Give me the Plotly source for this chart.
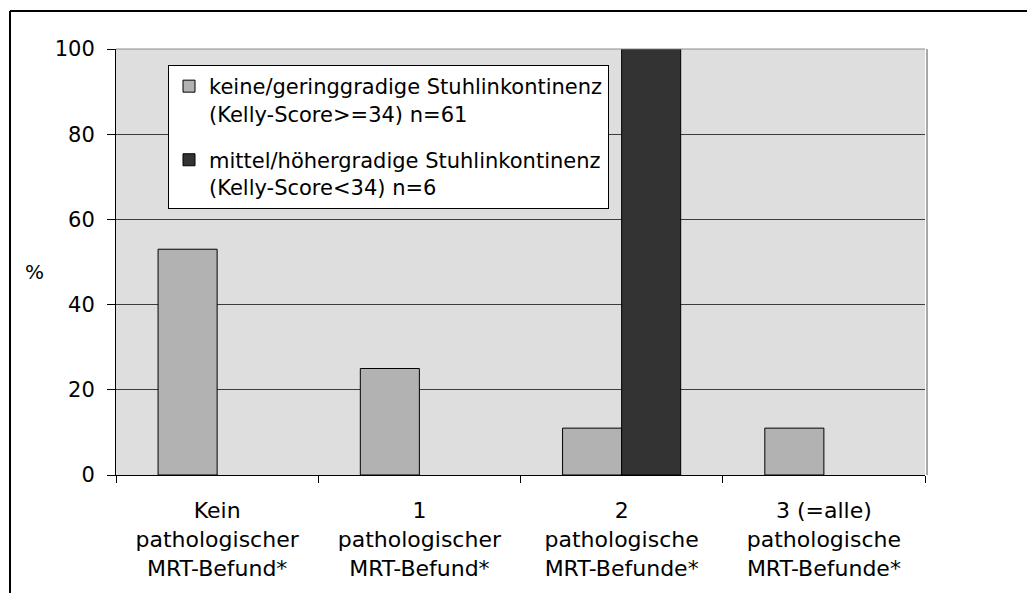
import plotly.graph_objects as go

# Kategorien: Anzahl pathologischer MRT-Befunde
categories = [
    "Kein<br>pathologischer<br>MRT-Befund*",
    "1<br>pathologischer<br>MRT-Befund*",
    "2<br>pathologische<br>MRT-Befunde*",
    "3 (=alle)<br>pathologische<br>MRT-Befunde*",
]

# Anteile in % je Gruppe
series_names = [
    "keine/geringgradige Stuhlinkontinenz<br>(Kelly-Score>=34) n=61",
    "mittel/höhergradige Stuhlinkontinenz<br>(Kelly-Score<34) n=6",
]
gering_values = [53, 25, 11, 11]
hoeher_values = [None, None, 100, None]

y_tickvals = [0, 20, 40, 60, 80, 100]

# Seitengeometrie (Pixel)
W, H = 1027, 593
PL, PR, PT, PB = 116, 925, 49, 475
FONT = "DejaVu Sans"


def px_x(x):
    return (x - PL) / (PR - PL)


def px_y(y):
    return (PB - y) / (PB - PT)


fig = go.Figure()
fig.add_trace(go.Bar(
    x=categories, y=gering_values, name=series_names[0],
    marker=dict(color="#b2b2b2", line=dict(color="#000000", width=1)),
    legendgroup="a",
))
fig.add_trace(go.Bar(
    x=categories, y=hoeher_values, name=series_names[1],
    marker=dict(color="#333333", line=dict(color="#000000", width=1)),
    legendgroup="b",
))

shapes = [
    # Rahmen um die Grafik (links und oben)
    dict(type="line", xref="paper", yref="paper",
         x0=px_x(10), x1=px_x(10), y0=px_y(H + 5), y1=px_y(11),
         line=dict(color="#000000", width=2)),
    dict(type="line", xref="paper", yref="paper",
         x0=px_x(10), x1=px_x(W + 5), y0=px_y(11), y1=px_y(11),
         line=dict(color="#000000", width=2)),
    # Obere und rechte Begrenzung der Zeichenfläche
    dict(type="line", xref="paper", yref="paper", layer="above",
         x0=0, x1=1, y0=1, y1=1,
         line=dict(color="#8c8c8c", width=1)),
    dict(type="line", xref="paper", yref="paper", layer="above",
         x0=px_x(927), x1=px_x(927), y0=0, y1=1,
         line=dict(color="#a8a8a8", width=2)),
]

fig.update_layout(
    width=W, height=H,
    margin=dict(l=PL, r=W - PR, t=PT, b=H - PB, pad=0),
    paper_bgcolor="#ffffff",
    plot_bgcolor="#dedede",
    barmode="group",
    bargap=0.416,
    bargroupgap=0,
    font=dict(family=FONT, size=22, color="#000000"),
    showlegend=True,
    legend=dict(
        x=px_x(168), y=px_y(65), xanchor="left", yanchor="top",
        bgcolor="#ffffff", bordercolor="#000000", borderwidth=1,
        font=dict(family=FONT, size=21, color="#000000"),
        tracegroupgap=16, valign="top",
    ),
    xaxis=dict(
        type="category",
        showline=True, linecolor="#000000", linewidth=1,
        ticks="outside", tickson="boundaries", ticklen=7,
        tickcolor="#000000", tickwidth=1,
        ticklabelstandoff=16,
        tickfont=dict(family=FONT, size=22, color="#000000"),
        showgrid=False, zeroline=False,
    ),
    yaxis=dict(
        range=[0, 100], tickvals=y_tickvals,
        showline=True, linecolor="#000000", linewidth=1,
        ticks="outside", ticklen=8, tickcolor="#000000", tickwidth=1,
        ticklabelstandoff=8,
        tickfont=dict(family=FONT, size=21, color="#000000"),
        showgrid=True, gridcolor="#3c3c3c", gridwidth=1,
        zeroline=False,
    ),
    shapes=shapes,
    annotations=[
        dict(text="%", xref="paper", yref="paper",
             x=px_x(34), y=px_y(272), xanchor="center", yanchor="middle",
             showarrow=False, font=dict(family=FONT, size=20, color="#000000")),
    ],
)

fig.write_html("out.html")
